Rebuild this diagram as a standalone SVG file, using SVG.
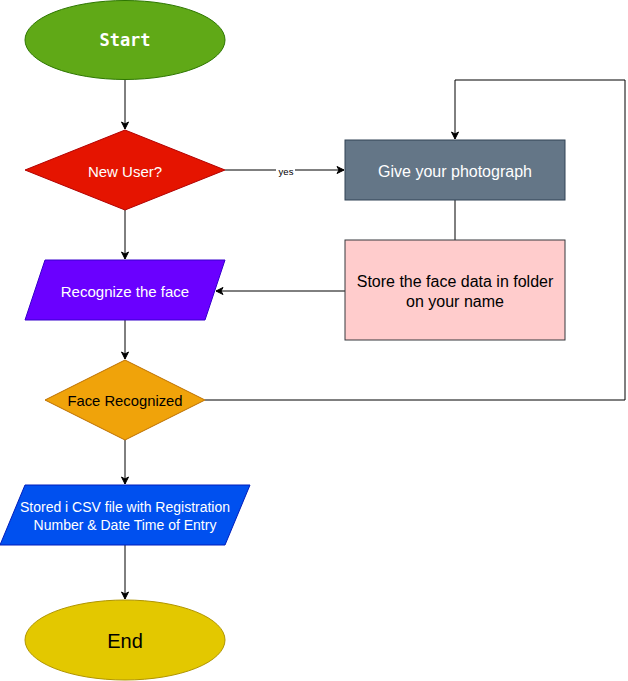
<svg xmlns="http://www.w3.org/2000/svg" width="628" height="681" viewBox="0 0 628 681">
<defs>
<marker id="arr" markerWidth="10" markerHeight="10" refX="8" refY="5" orient="auto" markerUnits="userSpaceOnUse">
<path d="M1,1.5 L8,5 L1,8.5 L3,5 Z" fill="#000" stroke="#000" stroke-width="1"/>
</marker>
<style>
text{font-family:"Liberation Sans",Arial,sans-serif;font-size:15px;text-anchor:middle;dominant-baseline:central}
.w{fill:#fff}
.k{fill:#000}
.big{font-size:16px}
.c{fill:none;stroke:#000;stroke-width:1}
</style>
</defs>
<rect width="628" height="681" fill="#fff"/>
<g id="connectors">
<line class="c" x1="125" y1="80" x2="125" y2="129" marker-end="url(#arr)"/>
<line class="c" x1="225" y1="170" x2="344" y2="170" marker-end="url(#arr)"/>
<rect x="276" y="164" width="19" height="12" fill="#fff"/>
<text x="286" y="171" style="font-size:9.5px" class="k">yes</text>
<line class="c" x1="455" y1="200" x2="455" y2="240"/>
<line class="c" x1="345" y1="291" x2="216" y2="291" marker-end="url(#arr)"/>
<line class="c" x1="125" y1="210" x2="125" y2="259" marker-end="url(#arr)"/>
<line class="c" x1="125" y1="320" x2="125" y2="359" marker-end="url(#arr)"/>
<polyline class="c" points="205,400 625,400 625,80 455,80 455,139" marker-end="url(#arr)"/>
<line class="c" x1="125" y1="440" x2="125" y2="484" marker-end="url(#arr)"/>
<line class="c" x1="125" y1="545" x2="125" y2="599" marker-end="url(#arr)"/>
</g>
<g id="start">
<ellipse cx="125" cy="40" rx="100" ry="39.5" fill="#60a917" stroke="#2d7600"/>
<text x="125" y="40" class="w" style="font-family:'DejaVu Sans Mono','Liberation Mono',monospace;font-size:17px;font-weight:bold">Start</text>
</g>
<g id="new-user">
<polygon points="125,130 225,170 125,210 25,170" fill="#e51400" stroke="#b20000"/>
<text x="125" y="171" class="w">New User?</text>
</g>
<g id="give-photo">
<rect x="345" y="140" width="220" height="60" fill="#647687" stroke="#314354"/>
<text x="455" y="171" class="w big">Give your photograph</text>
</g>
<g id="store-face">
<rect x="345" y="240" width="220" height="100" fill="#ffcccc" stroke="#36393d"/>
<text x="455" y="281" class="k big">Store the face data in folder</text>
<text x="455" y="301" class="k big">on your name</text>
</g>
<g id="recognize">
<polygon points="45,260 225,260 205,320 25,320" fill="#6a00ff" stroke="#3700cc"/>
<text x="125" y="291" class="w">Recognize the face</text>
</g>
<g id="face-recognized">
<polygon points="125,360 205,400 125,440 45,400" fill="#f0a30a" stroke="#bd7000"/>
<text x="125" y="401" class="k" style="font-size:14.8px">Face Recognized</text>
</g>
<g id="stored-csv">
<polygon points="25,485 250,485 225,545 0,545" fill="#0050ef" stroke="#001dbc"/>
<text x="125" y="507" class="w" style="font-size:14px">Stored i CSV file with Registration</text>
<text x="125" y="525" class="w" style="font-size:14px">Number &amp; Date Time of Entry</text>
</g>
<g id="end">
<ellipse cx="125" cy="640" rx="100" ry="40" fill="#e3c800" stroke="#b09500"/>
<text x="125" y="641" class="k" style="font-size:20px">End</text>
</g>
</svg>
